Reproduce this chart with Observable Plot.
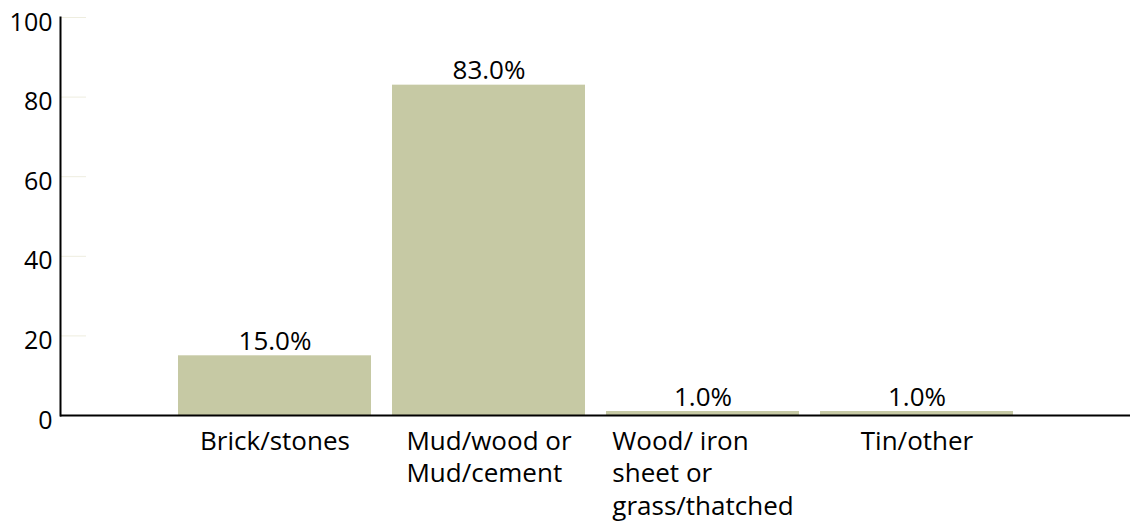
<!DOCTYPE html>
<html>
<head>
<meta charset="utf-8">
<script src="https://cdn.jsdelivr.net/npm/d3@7"></script>
<script src="https://cdn.jsdelivr.net/npm/@observablehq/plot@0.6"></script>
<style>
  html, body { margin: 0; padding: 0; background: #fff; }
  #chart { width: 1130px; height: 525px; overflow: hidden; }
</style>
</head>
<body>
<div id="chart"></div>
<script>
const categories = ["Brick/stones", "Mud/wood or Mud/cement", "Wood/ iron sheet or grass/thatched", "Tin/other"];
const tickLabels = ["Brick/stones", "Mud/wood or\nMud/cement", "Wood/ iron\nsheet or\ngrass/thatched", "Tin/other"];
const values = [15.0, 83.0, 1.0, 1.0];
const yTicks = [0, 20, 40, 60, 80, 100];

const data = categories.map((c, i) => ({cat: c, label: tickLabels[i], value: values[i]}));

const chart = Plot.plot({
  width: 1130,
  height: 525,
  marginLeft: 60,
  marginRight: 0,
  marginTop: 17,
  marginBottom: 110,
  style: {fontFamily: "'Open Sans', sans-serif", fontSize: "25px", color: "#000", background: "#fff"},
  x: {domain: categories, paddingInner: 0.1, paddingOuter: 0.55, label: null},
  y: {domain: [0, 100], label: null},
  marks: [
    Plot.axisY({ticks: yTicks, tickSize: -26, stroke: "#eeeddf", tickFormat: () => ""}),
    Plot.axisY({ticks: yTicks, tickSize: 0, tickPadding: 8, dy: 5, fontSize: 25, label: null}),
    Plot.barY(data, {x: "cat", y: "value", fill: "#c6c9a4"}),
    Plot.text(data, {x: "cat", y: "value", text: d => d.value.toFixed(1) + "%", lineAnchor: "bottom", dy: -6, fontSize: 26}),
    Plot.axisX({tickSize: 0, tickPadding: 11, lineAnchor: "top", lineHeight: 1.25, fontSize: 26, label: null,
      tickFormat: d => tickLabels[categories.indexOf(d)]}),
    Plot.ruleY([0], {stroke: "#000", strokeWidth: 2}),
    Plot.frame({anchor: "left", stroke: "#000", strokeWidth: 2})
  ]
});

document.getElementById("chart").appendChild(chart);

// left-align wrapped lines within each centred label block
chart.querySelectorAll('g[aria-label="x-axis tick label"] text').forEach(t => {
  const spans = t.querySelectorAll("tspan");
  if (spans.length < 2) return;
  let maxW = 0;
  spans.forEach(s => { maxW = Math.max(maxW, s.getComputedTextLength()); });
  t.setAttribute("text-anchor", "start");
  spans.forEach(s => s.setAttribute("x", -maxW / 2));
});
</script>
</body>
</html>
